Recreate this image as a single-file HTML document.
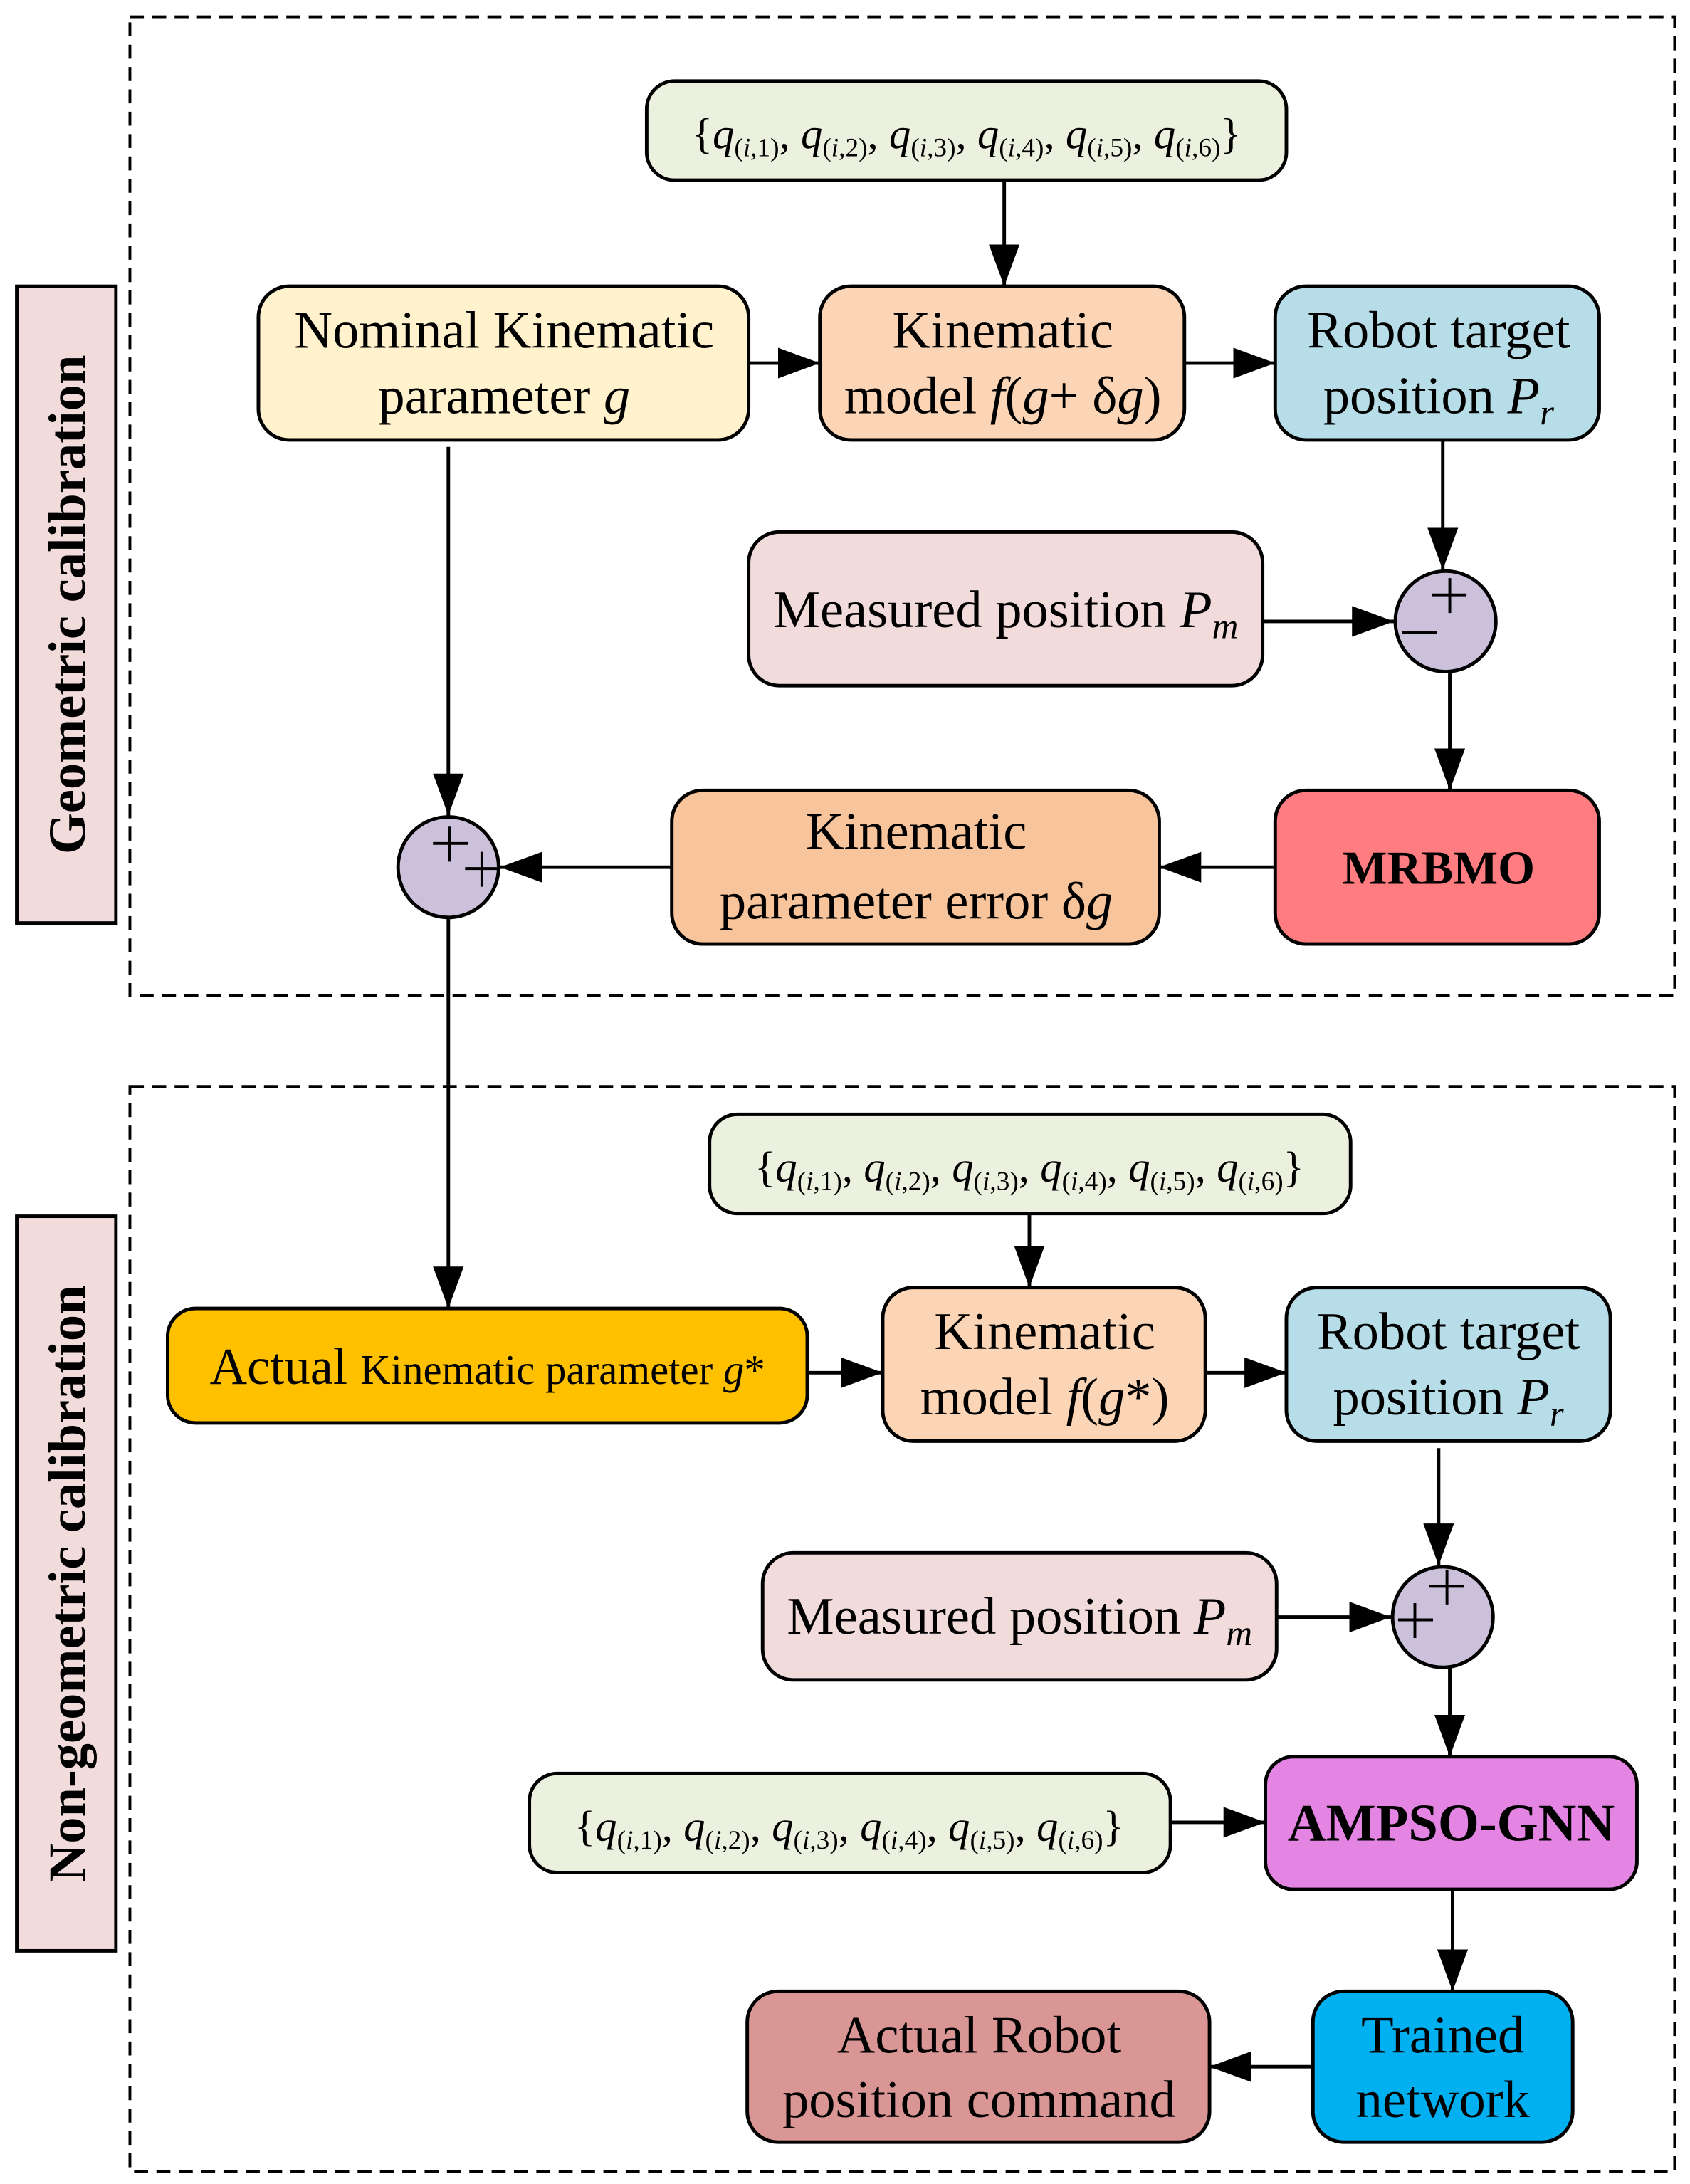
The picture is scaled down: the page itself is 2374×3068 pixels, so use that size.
<!DOCTYPE html>
<html><head><meta charset="utf-8"><style>
html,body{margin:0;padding:0;background:#fff;}
svg{display:block;}
text{font-family:"Liberation Serif",serif;fill:#000;}
</style></head><body>
<svg width="2374" height="3068" viewBox="0 0 1210 1564" preserveAspectRatio="none" xmlns="http://www.w3.org/2000/svg">
<defs>
<marker id="a" markerUnits="userSpaceOnUse" markerWidth="30" markerHeight="22" refX="30" refY="11" orient="auto">
<path d="M0,0 L30,11 L0,22 Z" fill="#000"/></marker>
</defs>
<g stroke="#000" stroke-width="2" fill="none" stroke-dasharray="10,6">
<rect x="93" y="12" width="1106" height="701"/>
<rect x="93" y="778" width="1106" height="777"/>
</g>
<g stroke="#000" stroke-width="2.5">
<rect x="12" y="205" width="71" height="456" fill="#f2dcdb"/>
<rect x="12" y="871" width="71" height="526" fill="#f2dcdb"/>
</g>
<text transform="translate(61,433) rotate(-90)" text-anchor="middle" font-size="38" font-weight="bold">Geometric calibration</text>
<text transform="translate(61,1134) rotate(-90)" text-anchor="middle" font-size="38" font-weight="bold">Non-geometric calibration</text>
<g stroke="#000" stroke-width="2.5">
<rect x="463" y="58" width="458" height="71" rx="20" fill="#ebf1de"/>
<rect x="185" y="205" width="351" height="110" rx="22" fill="#fff2cc"/>
<rect x="587" y="205" width="261" height="110" rx="22" fill="#fbd5b5"/>
<rect x="913" y="205" width="232" height="110" rx="22" fill="#b7dee8"/>
<rect x="536" y="381" width="368" height="110" rx="22" fill="#f2dcdb"/>
<circle cx="1035" cy="445" r="36" fill="#ccc1da"/>
<rect x="913" y="566" width="232" height="110" rx="22" fill="#ff7c80"/>
<rect x="481" y="566" width="349" height="110" rx="22" fill="#f8c49b"/>
<circle cx="321" cy="621" r="36" fill="#ccc1da"/>
<rect x="508" y="798" width="459" height="71" rx="20" fill="#ebf1de"/>
<rect x="120" y="937" width="458" height="82" rx="20" fill="#ffc000"/>
<rect x="632" y="922" width="231" height="110" rx="22" fill="#fbd5b5"/>
<rect x="921" y="922" width="232" height="110" rx="22" fill="#b7dee8"/>
<rect x="546" y="1112" width="368" height="91" rx="22" fill="#f2dcdb"/>
<circle cx="1033" cy="1158" r="36" fill="#ccc1da"/>
<rect x="379" y="1270" width="459" height="71" rx="20" fill="#ebf1de"/>
<rect x="906" y="1258" width="266" height="95" rx="20" fill="#e485e4"/>
<rect x="940" y="1426" width="186" height="108" rx="22" fill="#00b0f0"/>
<rect x="535" y="1426" width="331" height="108" rx="22" fill="#d99694"/>
</g>
<g stroke="#000" stroke-width="2.5" fill="none" marker-end="url(#a)">
<line x1="719" y1="129" x2="719" y2="205"/>
<line x1="536" y1="260" x2="587" y2="260"/>
<line x1="848" y1="260" x2="913" y2="260"/>
<line x1="1033" y1="315" x2="1033" y2="408"/>
<line x1="904" y1="445" x2="998" y2="445"/>
<line x1="1038" y1="481" x2="1038" y2="566"/>
<line x1="913" y1="621" x2="830" y2="621"/>
<line x1="481" y1="621" x2="358" y2="621"/>
<line x1="321" y1="320" x2="321" y2="584"/>
<line x1="321" y1="657" x2="321" y2="937"/>
<line x1="737" y1="869" x2="737" y2="922"/>
<line x1="578" y1="983" x2="632" y2="983"/>
<line x1="863" y1="983" x2="921" y2="983"/>
<line x1="1030" y1="1037" x2="1030" y2="1121"/>
<line x1="914" y1="1158" x2="996" y2="1158"/>
<line x1="1038" y1="1194" x2="1038" y2="1258"/>
<line x1="838" y1="1305" x2="906" y2="1305"/>
<line x1="1040" y1="1353" x2="1040" y2="1426"/>
<line x1="940" y1="1480" x2="866" y2="1480"/>
</g>
<g stroke="#000" stroke-width="2">
<path d="M1025,426 h25 M1038,414 v25 M1004,453 h25"/>
<path d="M310,604 h25 M322,592 v25 M333,622 h25 M345,610 v25"/>
<path d="M1023,1136 h25 M1036,1124 v25 M1001,1160 h25 M1013,1148 v25"/>
</g>
<g font-size="38" text-anchor="middle">
<text x="692" y="106" font-size="31">{<tspan font-style="italic">q</tspan><tspan font-size="19" dy="6">(<tspan font-style="italic">i</tspan>,1)</tspan><tspan dy="-6">, </tspan><tspan font-style="italic">q</tspan><tspan font-size="19" dy="6">(<tspan font-style="italic">i</tspan>,2)</tspan><tspan dy="-6">, </tspan><tspan font-style="italic">q</tspan><tspan font-size="19" dy="6">(<tspan font-style="italic">i</tspan>,3)</tspan><tspan dy="-6">, </tspan><tspan font-style="italic">q</tspan><tspan font-size="19" dy="6">(<tspan font-style="italic">i</tspan>,4)</tspan><tspan dy="-6">, </tspan><tspan font-style="italic">q</tspan><tspan font-size="19" dy="6">(<tspan font-style="italic">i</tspan>,5)</tspan><tspan dy="-6">, </tspan><tspan font-style="italic">q</tspan><tspan font-size="19" dy="6">(<tspan font-style="italic">i</tspan>,6)</tspan><tspan dy="-6">}</tspan></text>
<text x="737" y="846" font-size="31">{<tspan font-style="italic">q</tspan><tspan font-size="19" dy="6">(<tspan font-style="italic">i</tspan>,1)</tspan><tspan dy="-6">, </tspan><tspan font-style="italic">q</tspan><tspan font-size="19" dy="6">(<tspan font-style="italic">i</tspan>,2)</tspan><tspan dy="-6">, </tspan><tspan font-style="italic">q</tspan><tspan font-size="19" dy="6">(<tspan font-style="italic">i</tspan>,3)</tspan><tspan dy="-6">, </tspan><tspan font-style="italic">q</tspan><tspan font-size="19" dy="6">(<tspan font-style="italic">i</tspan>,4)</tspan><tspan dy="-6">, </tspan><tspan font-style="italic">q</tspan><tspan font-size="19" dy="6">(<tspan font-style="italic">i</tspan>,5)</tspan><tspan dy="-6">, </tspan><tspan font-style="italic">q</tspan><tspan font-size="19" dy="6">(<tspan font-style="italic">i</tspan>,6)</tspan><tspan dy="-6">}</tspan></text>
<text x="608" y="1318" font-size="31">{<tspan font-style="italic">q</tspan><tspan font-size="19" dy="6">(<tspan font-style="italic">i</tspan>,1)</tspan><tspan dy="-6">, </tspan><tspan font-style="italic">q</tspan><tspan font-size="19" dy="6">(<tspan font-style="italic">i</tspan>,2)</tspan><tspan dy="-6">, </tspan><tspan font-style="italic">q</tspan><tspan font-size="19" dy="6">(<tspan font-style="italic">i</tspan>,3)</tspan><tspan dy="-6">, </tspan><tspan font-style="italic">q</tspan><tspan font-size="19" dy="6">(<tspan font-style="italic">i</tspan>,4)</tspan><tspan dy="-6">, </tspan><tspan font-style="italic">q</tspan><tspan font-size="19" dy="6">(<tspan font-style="italic">i</tspan>,5)</tspan><tspan dy="-6">, </tspan><tspan font-style="italic">q</tspan><tspan font-size="19" dy="6">(<tspan font-style="italic">i</tspan>,6)</tspan><tspan dy="-6">}</tspan></text>
<text x="361" y="249">Nominal Kinematic</text>
<text x="361" y="296">parameter <tspan font-style="italic">g</tspan></text>
<text x="718" y="249">Kinematic</text>
<text x="718" y="296">model <tspan font-style="italic">f</tspan>(<tspan font-style="italic">g</tspan>+ δ<tspan font-style="italic">g</tspan>)</text>
<text x="1030" y="249">Robot target</text>
<text x="1030" y="296">position <tspan font-style="italic">P</tspan><tspan font-size="26" dy="8" font-style="italic">r</tspan></text>
<text x="720" y="449">Measured position <tspan font-style="italic">P</tspan><tspan font-size="26" dy="8" font-style="italic">m</tspan></text>
<text x="1030" y="633" font-weight="bold" font-size="34">MRBMO</text>
<text x="656" y="608">Kinematic</text>
<text x="656" y="658">parameter error   δ<tspan font-style="italic">g</tspan></text>
<text x="349" y="991" font-size="37">Actual <tspan font-size="30">Kinematic parameter <tspan font-style="italic">g</tspan>*</tspan></text>
<text x="748" y="966">Kinematic</text>
<text x="748" y="1013">model <tspan font-style="italic">f</tspan>(<tspan font-style="italic">g</tspan>*)</text>
<text x="1037" y="966">Robot target</text>
<text x="1037" y="1013">position <tspan font-style="italic">P</tspan><tspan font-size="26" dy="8" font-style="italic">r</tspan></text>
<text x="730" y="1170">Measured position <tspan font-style="italic">P</tspan><tspan font-size="26" dy="8" font-style="italic">m</tspan></text>
<text x="1039" y="1318" font-weight="bold" font-size="38">AMPSO-GNN</text>
<text x="1033" y="1470">Trained</text>
<text x="1033" y="1516">network</text>
<text x="701" y="1470">Actual Robot</text>
<text x="701" y="1516">position command</text>
</g>
</svg>
</body></html>
